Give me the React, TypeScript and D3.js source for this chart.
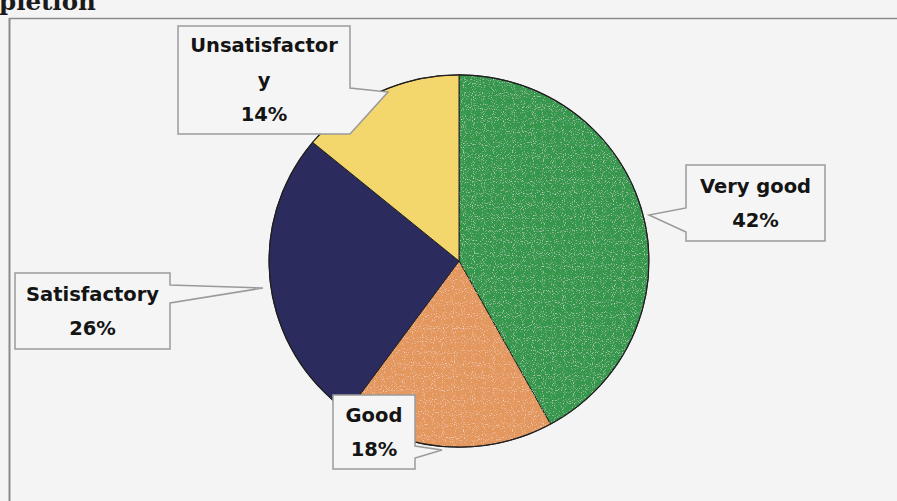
import React from 'react';
import * as d3 from 'd3';

const categories = ['Very good', 'Good', 'Satisfactory', 'Unsatisfactory'];
const values = [42, 18, 26, 14];
const sliceColors = ['#36974b', '#e3975b', '#2c2b5e', '#f3d66c'];
// label lines as printed by the chart (wrapped)
const labelLines = [['Very good', '42%'], ['Good', '18%'], ['Satisfactory', '26%'], ['Unsatisfactor', 'y', '14%']];

// callout layout: box, side of pointer, pointer base range and tip
const callouts = [
  { x0: 686, y0: 165, x1: 825, y1: 241, side: 'left', b0: 208, b1: 232, tip: [649, 215] },
  { x0: 333, y0: 395, x1: 415, y1: 469, side: 'right', b0: 446, b1: 458, tip: [442, 450] },
  { x0: 15, y0: 273, x1: 170, y1: 349, side: 'right', b0: 285, b1: 303, tip: [263, 288] },
  { x0: 178, y0: 26, x1: 350, y1: 134, side: 'right', b0: 88, b1: 134, tip: [388, 92] },
];

function calloutPath(c: typeof callouts[number]) {
  const p = d3.path();
  if (c.side === 'left') {
    p.moveTo(c.x0, c.y0);
    p.lineTo(c.x1, c.y0);
    p.lineTo(c.x1, c.y1);
    p.lineTo(c.x0, c.y1);
    p.lineTo(c.x0, c.b1);
    p.lineTo(c.tip[0], c.tip[1]);
    p.lineTo(c.x0, c.b0);
    p.closePath();
  } else {
    p.moveTo(c.x0, c.y0);
    p.lineTo(c.x1, c.y0);
    p.lineTo(c.x1, c.b0);
    p.lineTo(c.tip[0], c.tip[1]);
    p.lineTo(c.x1, c.b1);
    p.lineTo(c.x1, c.y1);
    p.lineTo(c.x0, c.y1);
    p.closePath();
  }
  return p.toString();
}

export default function App() {
  const width = 897;
  const height = 501;
  const cx = 459;
  const cy = 261;
  const r = 190;

  const pie = d3.pie<number>().sort(null).value(d => d);
  const arcs = pie(values);
  const arc = d3.arc<d3.PieArcDatum<number>>().innerRadius(0).outerRadius(r);

  return (
    <svg width={width} height={height} style={{ position: 'absolute', left: 0, top: 0, background: '#f4f4f4' }}>
      <defs>
        <filter id="speckle" x="0" y="0" width="100%" height="100%">
          <feTurbulence type="fractalNoise" baseFrequency="0.9" numOctaves="1" seed="3" result="noise" />
          <feColorMatrix in="noise" type="matrix"
            values="0 0 0 0 1  0 0 0 0 1  0 0 0 0 1  0 0 0 2.2 -1.25" result="spots" />
          <feComposite in="spots" in2="SourceGraphic" operator="in" result="clipped" />
          <feMerge>
            <feMergeNode in="SourceGraphic" />
            <feMergeNode in="clipped" />
          </feMerge>
        </filter>
      </defs>
      <rect width={width} height={height} fill="#f4f4f4" />
      {/* title is cut off at the top-left in the source image */}
      <text x={-1} y={10} fontFamily="DejaVu Serif" fontWeight="bold" fontSize={24.5} fill="#1a1a1a">pletion</text>
      <line x1={9} x2={width} y1={18.5} y2={18.5} stroke="#8c8c8c" strokeWidth={1.5} />
      <line x1={9.5} x2={9.5} y1={18} y2={height} stroke="#8a8a8a" strokeWidth={2} />

      <g transform={`translate(${cx},${cy}) scale(1,0.98)`}>
        {arcs.map((a, i) => (
          <path key={categories[i]} d={arc(a) ?? ''} fill={sliceColors[i]} stroke="#222" strokeWidth={1}
            filter={i < 2 ? 'url(#speckle)' : undefined} />
        ))}
        <circle r={r} fill="none" stroke="#1f1f1f" strokeWidth={1.2} />
      </g>

      {callouts.map((c, i) => {
        const lines = labelLines[i];
        const mid = (c.x0 + c.x1) / 2;
        const lh = 34.5;
        const yc = (c.y0 + c.y1) / 2;
        const first = yc - ((lines.length - 1) * lh) / 2;
        return (
          <g key={categories[i]}>
            <path d={calloutPath(c)} fill="#f5f5f5" stroke="#9a9a9a" strokeWidth={1.5} />
            {lines.map((t, j) => (
              <text key={j} x={mid} y={first + j * lh} dy="0.35em" textAnchor="middle"
                fontFamily="DejaVu Sans" fontWeight="bold" fontSize={19.5} fill="#141414">{t}</text>
            ))}
          </g>
        );
      })}
    </svg>
  );
}
